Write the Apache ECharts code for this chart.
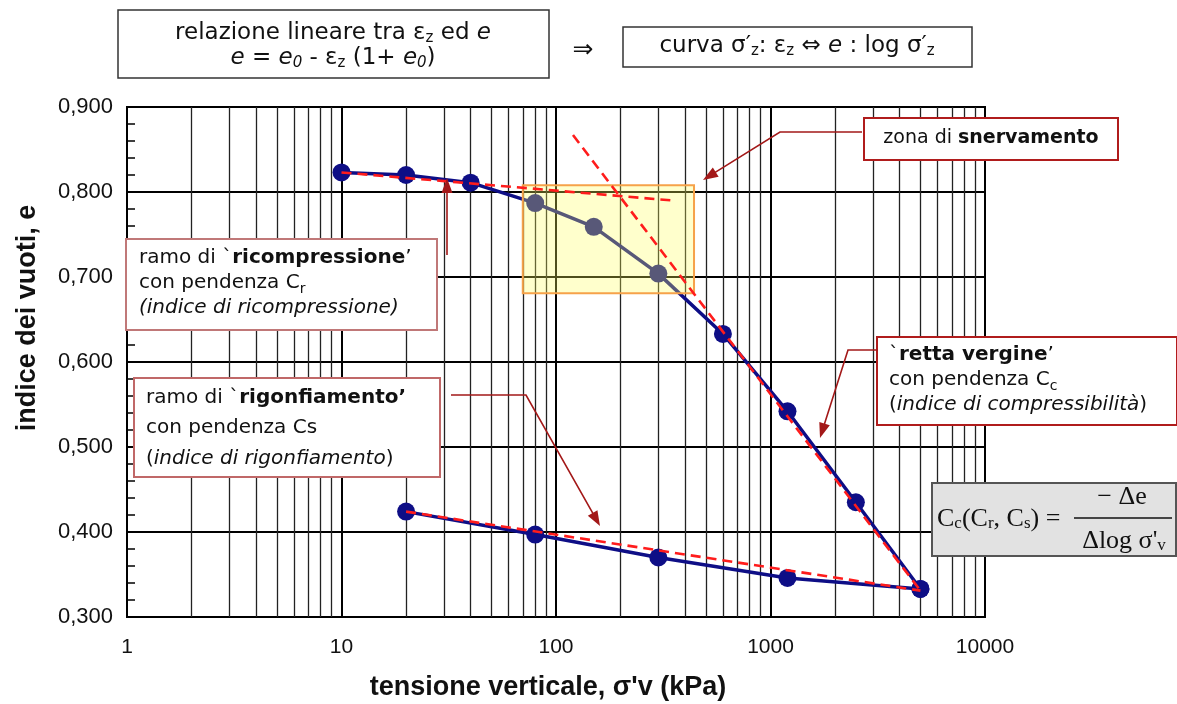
<!DOCTYPE html>
<html>
	<head>
		<meta charset="utf-8">
		<title></title>
		<script src="https://cdn.jsdelivr.net/npm/echarts@6/dist/echarts.min.js"></script>
	</head>
	<body style="margin:0">
		<div id="main" style="width:1177px;height:704px;"></div>
		<script>
			// prova edometrica: e - log sigma'v
			var loadSigma = [10, 20, 40, 80, 150, 300, 600, 1200, 2500, 5000];
			var loadE = [0.823, 0.820, 0.811, 0.787, 0.759, 0.704, 0.633, 0.542, 0.435, 0.333];
			var unloadSigma = [5000, 1200, 300, 80, 20];
			var unloadE = [0.333, 0.346, 0.370, 0.397, 0.424];
			// rette di costruzione (tratteggio rosso)
			var lineCr = [[10, 0.823], [350, 0.790]];
			var lineCc = [[120, 0.867], [5000, 0.331]];
			var lineCs = [[20, 0.424], [5000, 0.331]];
			// zona di snervamento
			var yieldBox = [[70, 0.808], [440, 0.681]];
			var xTicks = [1, 10, 100, 1000, 10000];

			function pairs(xs, ys) {
				return xs.map(function(x, i) { return [x, ys[i]]; });
			}

			// linee secondarie della griglia logaritmica (2..9 per decade)
			var minorVals = [];
			for (var d = 1; d < 10000; d *= 10) {
				for (var k = 2; k <= 9; k++) minorVals.push(d * k);
			}

			var red = '#a31818';
			function arrow(pts) {
				var n = pts.length;
				var tip = pts[n - 1], prev = pts[n - 2];
				var dx = tip[0] - prev[0], dy = tip[1] - prev[1];
				var len = Math.sqrt(dx * dx + dy * dy);
				dx /= len; dy /= len;
				var bx = tip[0] - dx * 15, by = tip[1] - dy * 15;
				return [{
					type: 'polyline', z: 100,
					shape: { points: pts.slice(0, n - 1).concat([[bx + dx * 4, by + dy * 4]]) },
					style: { stroke: red, lineWidth: 1.6, fill: null }
				}, {
					type: 'polygon', z: 100,
					shape: { points: [tip, [bx - dy * 5.5, by + dx * 5.5], [bx + dy * 5.5, by - dx * 5.5]] },
					style: { fill: red }
				}];
			}

			var sansTxt = 'DejaVu Sans';
			function mk(base, extra) { return Object.assign({ fontFamily: sansTxt, fill: '#111' }, base, extra || {}); }

			function box(x, y, w, h, stroke, fill, lw) {
				return {
					type: 'rect', z: 100,
					shape: { x: x, y: y, width: w, height: h },
					style: { fill: fill || '#fff', stroke: stroke, lineWidth: lw || 2 }
				};
			}
			function txt(x, y, text, size, align, rich, extra) {
				var el = {
					type: 'text', z: 101, x: x, y: y,
					style: {
						text: text, fontSize: size, fontFamily: sansTxt, fill: '#111',
						align: align || 'left', verticalAlign: 'middle', lineHeight: 26,
						rich: rich || {}
					}
				};
				if (extra) for (var p in extra) el.style[p] = extra[p];
				return el;
			}

			var richTop = {
				sub: mk({ fontSize: 15, lineHeight: 16, verticalAlign: 'bottom' }),
				isub: mk({ fontSize: 15, lineHeight: 16, verticalAlign: 'bottom', fontStyle: 'italic' }),
				i: mk({ fontSize: 23, fontStyle: 'italic' })
			};
			var richBox = {
				b: mk({ fontSize: 20, fontWeight: 'bold' }),
				i: mk({ fontSize: 20, fontStyle: 'italic' }),
				sub: mk({ fontSize: 14, lineHeight: 16, verticalAlign: 'bottom' })
			};
			var richSn = { b: mk({ fontSize: 19, fontWeight: 'bold' }) };
			var serif = 'Liberation Serif';
			var richF = { sub: { fontSize: 17, lineHeight: 18, verticalAlign: 'bottom', fontFamily: serif, fill: '#111' } };

			var graphics = [
				box(118, 10, 431, 68, '#333', '#fff', 1.5),
				txt(333, 33, 'relazione lineare tra ε{sub|z} ed {i|e}', 23, 'center', richTop),
				txt(333, 58, '{i|e} = {i|e}{isub|0} - ε{sub|z} (1+ {i|e}{isub|0})', 23, 'center', richTop),
				txt(583, 50, '⇒', 25, 'center'),
				box(623, 27, 349, 40, '#333', '#fff', 1.5),
				txt(797, 46, 'curva σ′{sub|z}: ε{sub|z} ⇔ {i|e} : log σ′{sub|z}', 23, 'center', richTop),

				box(864, 118, 254, 42, '#b01c1c'),
				txt(991, 138, 'zona di {b|snervamento}', 19, 'center', richSn),

				box(126, 239, 311, 91, '#c07878'),
				txt(139, 258, 'ramo di `{b|ricompressione}’', 20, 'left', richBox),
				txt(139, 283, 'con pendenza C{sub|r}', 20, 'left', richBox),
				txt(139, 308, '{i|(indice di ricompressione)}', 20, 'left', richBox),

				box(134, 378, 306, 99, '#c06868'),
				txt(146, 398, 'ramo di `{b|rigonfiamento’}', 20, 'left', richBox),
				txt(146, 428, 'con pendenza Cs', 20, 'left', richBox),
				txt(146, 459, '({i|indice di rigonfiamento})', 20, 'left', richBox),

				box(877, 337, 300, 88, '#b01c1c'),
				txt(889, 355, '`{b|retta vergine}’', 20, 'left', richBox),
				txt(889, 380, 'con pendenza C{sub|c}', 20, 'left', richBox),
				txt(889, 405, '({i|indice di compressibilità})', 20, 'left', richBox),

				box(932, 483, 244, 73, '#555', '#e2e2e2', 2),
				txt(937, 519, 'C{sub|c}(C{sub|r}, C{sub|s}) =', 26, 'left', richF, { fontFamily: serif }),
				txt(1122, 497, '− Δe', 26, 'center', richF, { fontFamily: serif }),
				{ type: 'line', z: 101, shape: { x1: 1074, y1: 518, x2: 1172, y2: 518 }, style: { stroke: '#111', lineWidth: 1.3 } },
				txt(1124, 541, 'Δlog σ\'{sub|v}', 26, 'center', richF, { fontFamily: serif }),

				{
					type: 'text', z: 101, x: 28, y: 318, rotation: Math.PI / 2,
					style: { text: 'indice dei vuoti, e', fontSize: 27, fontWeight: 'bold', fontFamily: 'Liberation Sans', fill: '#111', align: 'center', verticalAlign: 'middle' }
				},
				{
					type: 'text', z: 101, x: 548, y: 688,
					style: { text: 'tensione verticale, σ\'v (kPa)', fontSize: 27, fontWeight: 'bold', fontFamily: 'Liberation Sans', fill: '#111', align: 'center', verticalAlign: 'middle' }
				}
			];
			graphics = graphics.concat(
				arrow([[862, 132], [780, 132], [703, 180]]),
				arrow([[447, 255], [447, 178]]),
				arrow([[451, 395], [526, 395], [600, 526]]),
				arrow([[878, 350], [848, 350], [820, 438]])
			);

			var myChart = echarts.init(document.getElementById('main'));
			var navy = '#0e0e86';
			var dash = {
				type: 'line', symbol: 'none', z: 6, silent: true,
				lineStyle: { color: '#ff1c1c', width: 2.6, type: [10, 6] }
			};
			var option = {
				animation: false,
				backgroundColor: '#fff',
				grid: { left: 127, right: 192, top: 107, bottom: 87, show: true, borderColor: '#000', borderWidth: 2 },
				xAxis: {
					type: 'log', logBase: 10, min: 1, max: 10000,
					axisLine: { lineStyle: { color: '#000', width: 2 } },
					axisTick: { inside: true, length: 8, lineStyle: { color: '#000' } },
					axisLabel: {
						fontSize: 21, fontFamily: 'Liberation Sans', color: '#111', margin: 20,
						formatter: function(v) { return xTicks.indexOf(Math.round(v)) >= 0 ? String(Math.round(v)) : ''; }
					},
					splitLine: { show: true, lineStyle: { color: '#000', width: 2 } }
				},
				yAxis: {
					type: 'value', min: 0.3, max: 0.9, interval: 0.1,
					axisLine: { show: true, lineStyle: { color: '#000', width: 2 } },
					axisTick: { show: true, inside: true, length: 8, lineStyle: { color: '#000' } },
					minorTick: { show: true, splitNumber: 5, length: 8, lineStyle: { color: '#000', width: 1.5 } },
					axisLabel: {
						fontSize: 22, fontFamily: 'Liberation Sans', color: '#111', margin: 14,
						formatter: function(v) { return v.toFixed(3).replace('.', ','); }
					},
					splitLine: { show: true, lineStyle: { color: '#000', width: 2 } }
				},
				graphic: graphics,
				series: [
					{
						type: 'line', data: [], silent: true,
						markLine: {
							z: 1, silent: true, symbol: ['none', 'none'], label: { show: false },
							lineStyle: { color: '#222', width: 1.3, type: 'solid' },
							data: minorVals.map(function(v) { return { xAxis: v }; })
						}
					},
					{
						name: 'carico', type: 'line', data: pairs(loadSigma, loadE), z: 3,
						symbol: 'circle', symbolSize: 18,
						lineStyle: { color: navy, width: 3.5 }, itemStyle: { color: navy }
					},
					{
						name: 'scarico', type: 'line', data: pairs(unloadSigma, unloadE), z: 3,
						symbol: 'circle', symbolSize: 18,
						lineStyle: { color: navy, width: 3.5 }, itemStyle: { color: navy }
					},
					{
						type: 'scatter', data: [], silent: true,
						markArea: {
							z: 4, silent: true,
							itemStyle: { color: 'rgba(255,255,90,0.31)', borderColor: '#f6a24a', borderWidth: 2 },
							data: [[{ coord: yieldBox[0] }, { coord: yieldBox[1] }]]
						}
					},
					Object.assign({ data: lineCr }, dash),
					Object.assign({ data: lineCc }, dash),
					Object.assign({ data: lineCs }, dash)
				]
			};
			myChart.setOption(option);
		</script>
	</body>
</html>
